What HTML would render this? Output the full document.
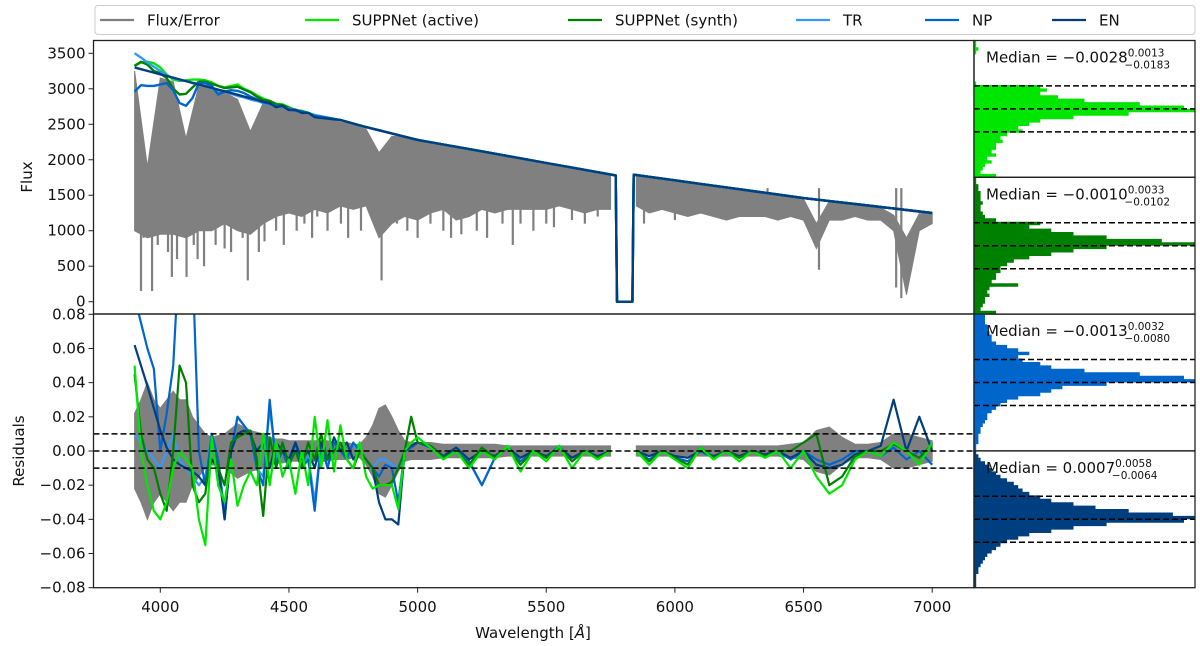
<!DOCTYPE html>
<html><head><meta charset="utf-8"><style>
html,body{margin:0;padding:0;background:#fff;}
svg{display:block;font-family:"DejaVu Sans","Liberation Sans",sans-serif;}
</style></head><body>
<svg id="chart" width="1200" height="646" viewBox="0 0 1200 646" xmlns="http://www.w3.org/2000/svg"></svg>
<script>
// ---- data ----
const xTicks=[4000,4500,5000,5500,6000,6500,7000];
const fluxTicks=[0,500,1000,1500,2000,2500,3000,3500];
const resTicks=[-0.08,-0.06,-0.04,-0.02,0.00,0.02,0.04,0.06,0.08];
const resTickLabels=["\u22120.08","\u22120.06","\u22120.04","\u22120.02","0.00","0.02","0.04","0.06","0.08"];

const grayW=[3900,3950,4000,4050,4100,4150,4200,4250,4300,4350,4400,4450,4500,4550,4600,4650,4700,4750,4800,4850,4900,4950,5000,5050,5100,5150,5200,5250,5300,5350,5400,5450,5500,5550,5600,5650,5700,5750,5800,5850,5900,5950,6000,6050,6100,6150,6200,6250,6300,6350,6400,6450,6500,6550,6600,6650,6700,6750,6800,6850,6900,6950,7000];
const grayTop=[3250,1900,3150,3100,2300,3050,3000,2950,2850,2400,2800,2740,2700,2650,2610,2570,2530,2490,2430,2100,2330,2320,2270,2240,2200,2170,2140,2110,2075,2045,2010,1980,1950,1920,1885,1855,1820,1790,null,1780,1755,1725,1700,1675,1650,1625,1600,1575,1550,1525,1500,1475,1450,1100,1415,1395,1370,1350,1325,1220,900,1240,1245];
const grayBottom=[1000,900,950,950,900,1000,1000,1100,1000,950,1100,1200,1250,1200,1300,1250,1350,1300,1350,900,1100,1200,1150,1250,1300,1150,1200,1300,1250,1300,1300,1300,1300,1350,1300,1250,1300,1300,null,1350,1250,1300,1250,1200,1250,1200,1150,1200,1200,1200,1150,1200,1150,750,1150,1150,1200,1150,1150,1000,100,1000,1100];
const lineW=[3925,3935,3968,3990,4030,4045,4065,4102,4130,4145,4170,4215,4250,4275,4320,4340,4383,4405,4450,4480,4530,4560,4590,4610,4650,4702,4730,4780,4860,4920,4960,5000,5050,5100,5130,5170,5230,5270,5330,5370,5400,5450,5500,5530,5600,5650,5700,5880,5900,6000,6100,6125,6160,6260,6360,6560,6860,6880];
const lineMin=[150,900,150,800,700,350,600,350,800,600,500,800,750,700,900,300,700,850,1000,800,1000,1100,900,1200,1000,1100,900,1000,300,1100,1000,900,1100,1000,900,950,1000,900,1100,800,1100,1000,1100,1050,1150,1100,1200,1100,1250,1150,1250,1250,1200,1250,1250,450,200,50];

const contW=[3900,3925,3950,3975,4000,4025,4050,4075,4100,4125,4150,4175,4200,4225,4250,4275,4300,4325,4350,4375,4400,4425,4450,4475,4500,4525,4550,4575,4600,4700,4800,4900,5000,5100,5200,5300,5400,5500,5600,5700,5770,5775,5835,5840,5900,6000,6100,6200,6300,6400,6500,6600,6700,6800,6900,7000];
const contTail=[2560,2460,2370,2280,2215,2150,2085,2020,1955,1890,1825,1780,0,0,1790,1760,1710,1660,1610,1560,1510,1460,1418,1376,1334,1292,1250];
const contEN=[3300,3276,3252,3228,3204,3180,3156,3132,3108,3084,3060,3036,3012,2988,2964,2940,2916,2892,2868,2844,2820,2797,2740,2760,2700,2707,2660,2662,2600].concat(contTail);
const contActive=[3330,3370,3380,3360,3300,3200,3130,3110,3120,3130,3130,3120,3090,3040,3020,3040,3060,3000,2960,2910,2860,2830,2790,2780,2740,2700,2690,2660,2630].concat(contTail);
const contSynth=[3320,3380,3340,3250,3220,3150,3000,2920,2930,3020,3100,3100,3070,3040,3010,3020,3030,2990,2950,2890,2840,2830,2780,2770,2730,2700,2680,2660,2620].concat(contTail);
const contTR=[3500,3440,3370,3310,3250,3190,3150,3120,3110,3080,3060,3040,3000,2980,2960,2930,2900,2880,2850,2830,2800,2780,2760,2740,2720,2700,2680,2650,2630].concat(contTail);
const contNP=[2960,3050,3040,3040,3060,3080,2980,2800,2760,2870,3080,3080,3040,2920,2960,2980,2970,2940,2890,2850,2810,2790,2760,2750,2710,2690,2680,2660,2620].concat(contTail);

const resW=[3900,3925,3950,3975,4000,4025,4050,4075,4100,4125,4150,4175,4200,4225,4250,4275,4300,4325,4350,4375,4400,4425,4450,4475,4500,4525,4550,4575,4600,4625,4650,4675,4700,4725,4750,4775,4800,4825,4850,4875,4900,4925,4950,4975,5000,5050,5100,5150,5200,5250,5300,5350,5400,5450,5500,5550,5600,5650,5700,5750,5850,5900,5950,6000,6050,6100,6150,6200,6250,6300,6350,6400,6450,6500,6550,6600,6650,6700,6750,6800,6850,6900,6950,7000];
const errAmp=[0.022,0.03,0.04,0.03,0.025,0.03,0.035,0.03,0.03,0.02,0.015,0.01,0.008,0.009,0.01,0.013,0.016,0.014,0.012,0.011,0.01,0.008,0.007,0.007,0.006,0.006,0.006,0.006,0.006,0.006,0.006,0.005,0.005,0.005,0.004,0.004,0.008,0.015,0.025,0.027,0.02,0.012,0.006,0.005,0.005,0.005,0.004,0.004,0.004,0.004,0.004,0.003,0.003,0.003,0.003,0.003,0.003,0.003,0.003,0.003,0.003,0.003,0.003,0.003,0.003,0.003,0.003,0.003,0.003,0.003,0.003,0.003,0.004,0.005,0.012,0.014,0.008,0.004,0.004,0.005,0.01,0.01,0.008,0.006];
const resActive=[0.05,0.0,-0.02,-0.035,-0.04,-0.03,-0.01,0.0,-0.005,-0.01,-0.04,-0.055,0.008,-0.02,-0.03,-0.005,-0.032,-0.02,-0.012,-0.02,0.01,-0.02,0.006,-0.015,-0.005,-0.025,0.0,-0.02,0.02,-0.01,0.018,-0.012,0.015,-0.005,-0.01,0.005,-0.015,-0.022,-0.02,-0.02,-0.02,-0.034,0.0,0.005,0.008,
0.002,-0.005,0.0,-0.01,0.0,-0.005,0.003,-0.012,0.0,-0.006,0.003,-0.01,0.0,-0.005,0.0,
0.0,-0.008,0.0,-0.005,-0.01,0.002,-0.005,0.0,-0.006,0.0,-0.004,0.0,-0.01,0.0,-0.015,-0.025,-0.02,-0.005,0.0,-0.003,0.005,0.0,-0.008,0.005];
const resSynth=[0.045,0.01,-0.005,-0.01,-0.025,-0.035,0.0,0.05,0.04,-0.02,-0.03,-0.025,0.005,-0.01,-0.02,0.005,0.008,0.01,0.012,-0.005,-0.038,0.008,-0.01,0.005,-0.008,0.0,-0.01,0.005,-0.005,0.01,-0.005,0.0,0.005,-0.005,-0.01,0.0,-0.005,-0.01,-0.02,-0.02,-0.018,-0.01,0.0,0.02,0.005,
0.003,-0.004,0.0,-0.008,0.002,-0.004,0.002,-0.008,0.0,-0.004,0.002,-0.006,0.0,-0.004,0.0,
0.0,-0.006,0.0,-0.004,-0.008,0.002,-0.004,0.0,-0.004,0.0,-0.003,0.0,0.0,0.005,0.01,-0.02,-0.015,-0.003,0.0,0.0,0.004,0.0,-0.004,0.004];
const resTR=[0.01,0.005,0.0,-0.005,-0.01,0.0,0.01,-0.005,-0.01,-0.015,-0.02,-0.015,0.01,-0.005,-0.035,0.0,0.02,0.015,0.01,-0.01,-0.015,0.025,-0.005,0.0,-0.008,0.005,-0.008,-0.003,-0.03,0.005,-0.01,0.005,0.0,-0.004,0.004,0.0,-0.005,-0.01,-0.005,-0.005,-0.008,-0.01,0.0,0.002,0.005,
0.002,-0.004,0.0,-0.006,-0.02,-0.004,0.002,-0.006,0.0,-0.004,0.003,-0.006,0.0,-0.003,0.0,
0.0,-0.005,0.0,-0.004,-0.006,0.0,-0.004,0.0,-0.004,0.0,-0.003,0.0,-0.005,0.0,-0.005,-0.008,-0.005,0.0,0.0,-0.003,0.002,-0.005,0.0,-0.008];
const resNP=[0.09,0.075,0.06,0.048,0.0,0.022,0.05,0.12,0.12,0.11,0.0,-0.02,0.01,-0.005,-0.04,0.0,0.02,0.015,0.01,-0.01,-0.02,0.03,-0.008,0.0,-0.01,0.005,-0.01,-0.005,-0.035,0.005,-0.01,0.005,0.0,-0.005,0.005,0.0,-0.005,-0.01,-0.015,-0.008,-0.01,-0.03,0.0,0.002,0.005,
0.002,-0.004,0.0,-0.006,-0.02,-0.004,0.002,-0.006,0.0,-0.004,0.003,-0.006,0.0,-0.003,0.0,
0.0,-0.005,0.0,-0.004,-0.006,0.0,-0.004,0.0,-0.004,0.0,-0.003,0.0,-0.005,0.0,-0.005,-0.008,-0.005,0.0,0.0,-0.003,0.002,-0.005,0.0,-0.008];
const resEN=[0.062,0.05,0.038,0.025,0.012,0.002,-0.005,-0.008,-0.01,-0.012,-0.015,-0.02,-0.005,-0.01,-0.04,0.0,0.01,0.012,0.01,0.0,0.005,-0.01,0.005,0.0,-0.005,0.005,-0.005,0.0,-0.01,0.005,-0.005,0.008,0.0,0.005,-0.005,0.0,-0.005,-0.01,-0.03,-0.04,-0.04,-0.043,0.0,0.003,0.005,
0.003,-0.003,0.002,-0.005,0.0,-0.003,0.002,-0.004,0.0,-0.003,0.002,-0.004,0.0,-0.003,0.0,
0.0,-0.003,0.0,-0.003,-0.004,0.0,-0.003,0.0,-0.003,0.0,-0.002,0.0,-0.004,0.0,-0.008,-0.01,-0.008,-0.002,0.0,0.003,0.03,0.0,0.02,0.0];

const histActive=[0.01,0.01,0.02,0.01,0,0,0,0,0,0,0,0,0.01,0.3,0.33,0.3,0.38,0.5,0.75,0.95,1.0,0.7,0.45,0.3,0.25,0.2,0.22,0.15,0.12,0.13,0.1,0.1,0.08,0.1,0.06,0.08,0.05,0.04,0.03,0.1];
const histSynth=[0.01,0.01,0.02,0.02,0.03,0.03,0.03,0.04,0.03,0.03,0.04,0.05,0.1,0.3,0.25,0.35,0.45,0.6,0.85,1.0,0.6,0.45,0.35,0.25,0.18,0.15,0.12,0.12,0.1,0.1,0.08,0.2,0.07,0.06,0.07,0.05,0.05,0.04,0.03,0.1];
const histNP=[0.05,0.05,0.05,0.06,0.06,0.07,0.08,0.08,0.1,0.15,0.2,0.25,0.2,0.22,0.3,0.35,0.5,0.75,0.95,1.0,0.6,0.4,0.35,0.3,0.2,0.15,0.12,0.1,0.08,0.06,0.06,0.05,0.04,0.03,0.03,0.02,0.02,0.02,0.01,0.01];
const histEN=[0.01,0.02,0.03,0.05,0.07,0.08,0.1,0.12,0.15,0.18,0.2,0.22,0.25,0.3,0.35,0.45,0.55,0.7,0.9,1.0,0.95,0.6,0.45,0.35,0.25,0.2,0.15,0.12,0.1,0.08,0.06,0.05,0.04,0.03,0.02,0.02,0.01,0.01,0.01,0.01];
const medians=[["Median = \u22120.0028","0.0013","\u22120.0183"],["Median = \u22120.0010","0.0033","\u22120.0102"],["Median = \u22120.0013","0.0032","\u22120.0080"],["Median = 0.0007","0.0058","\u22120.0064"]];

// ---- geometry ----
const AX0=93.5, AX1=974, TOP0=40.5, TOP1=314, BOT1=587.7;
const xS=w=>160.3+(w-4000)*0.2573;
const fS=f=>301.7-f*(248.4/3500);
const rS=r=>451-r*(273.4/0.16);
const C={gray:'#808080',act:'#00e600',syn:'#008000',tr:'#3399ff',np:'#0066cc',en:'#003f7f'};
const NS='http://www.w3.org/2000/svg';
const svg=document.getElementById('chart');
function mk(tag,attrs,parent){const e=document.createElementNS(NS,tag);for(const k in attrs)e.setAttribute(k,attrs[k]);(parent||svg).appendChild(e);return e;}

const defs=mk('defs',{});
const cp1=mk('clipPath',{id:'cTop'},defs);mk('rect',{x:AX0,y:TOP0,width:AX1-AX0,height:TOP1-TOP0},cp1);
const cp2=mk('clipPath',{id:'cBot'},defs);mk('rect',{x:AX0,y:TOP1,width:AX1-AX0,height:BOT1-TOP1},cp2);

function pathFrom(ws,vs,sy){let d='',pen=false;for(let i=0;i<ws.length;i++){if(vs[i]===null){pen=false;continue;}d+=(pen?'L':'M')+xS(ws[i]).toFixed(1)+','+sy(vs[i]).toFixed(1);pen=true;}return d;}

// ---- top panel ----
const gTop=mk('g',{'clip-path':'url(#cTop)'});


let seg=[];
function flushSeg(){if(seg.length<2){seg=[];return;}let d='M'+seg.map(i=>xS(grayW[i]).toFixed(1)+','+fS(grayTop[i]).toFixed(1)).join('L');d+='L'+seg.slice().reverse().map(i=>xS(grayW[i]).toFixed(1)+','+fS(grayBottom[i]).toFixed(1)).join('L')+'Z';const p=mk('path',{d:d,fill:C.gray,stroke:C.gray,'stroke-width':1},gTop);seg=[];}
for(let i=0;i<grayW.length;i++){if(grayTop[i]===null){flushSeg();}else seg.push(i);}flushSeg();
for(let i=0;i<lineW.length;i++){
  const l=mk('line',{x1:xS(lineW[i]),x2:xS(lineW[i]),y1:fS(1600),y2:fS(lineMin[i]),stroke:C.gray,'stroke-width':2.2},gTop);
  
  
}
const contSeries=[[contActive,C.act,'continuum-suppnet-active'],[contSynth,C.syn,'continuum-suppnet-synth'],[contTR,C.tr,'continuum-tr'],[contNP,C.np,'continuum-np'],[contEN,C.en,'continuum-en']];
contSeries.forEach(s=>{const p=mk('path',{d:pathFrom(contW,s[0],fS),fill:'none',stroke:s[1],'stroke-width':2.4,'stroke-linejoin':'round'},gTop);});

// ---- bottom panel ----
const gBot=mk('g',{'clip-path':'url(#cBot)'});


function bandSeg(a,b){let d='M';const idx=[];for(let i=a;i<=b;i++)idx.push(i);d+=idx.map(i=>xS(resW[i]).toFixed(1)+','+rS(errAmp[i]).toFixed(1)).join('L');d+='L'+idx.reverse().map(i=>xS(resW[i]).toFixed(1)+','+rS(-errAmp[i]).toFixed(1)).join('L')+'Z';const p=mk('path',{d:d,fill:C.gray,stroke:C.gray,'stroke-width':1},gBot);}
const gapIdx=resW.indexOf(5850);
bandSeg(0,gapIdx-1);bandSeg(gapIdx,resW.length-1);
[0.01,0,-0.01].forEach(v=>{const l=mk('line',{x1:AX0,x2:AX1,y1:rS(v),y2:rS(v),stroke:'#000','stroke-width':1.5,'stroke-dasharray':'6,3'},svg);});
function resPath(vs){const a=vs.slice();a.splice(gapIdx,0,null);const w=resW.slice();w.splice(gapIdx,0,5800);return pathFrom(w,a,rS);}
const resSeries=[[resTR,C.tr,'residual-tr'],[resNP,C.np,'residual-np'],[resEN,C.en,'residual-en'],[resSynth,C.syn,'residual-suppnet-synth'],[resActive,C.act,'residual-suppnet-active']];
resSeries.forEach(s=>{const p=mk('path',{d:resPath(s[0]),fill:'none',stroke:s[1],'stroke-width':2.2,'stroke-linejoin':'round'},gBot);});

// ---- frames & axes ----
const f1=mk('rect',{x:AX0,y:TOP0,width:AX1-AX0,height:TOP1-TOP0,fill:'none',stroke:'#222','stroke-width':1.3});

const f2=mk('rect',{x:AX0,y:TOP1,width:AX1-AX0,height:BOT1-TOP1,fill:'none',stroke:'#222','stroke-width':1.3});

fluxTicks.forEach(v=>{const y=fS(v);mk('line',{x1:AX0-5,x2:AX0,y1:y,y2:y,stroke:'#222'});const t=mk('text',{x:AX0-8,y:y+5,'text-anchor':'end','font-size':15,fill:'#111'});t.textContent=v;});
resTicks.forEach((v,i)=>{const y=rS(v);mk('line',{x1:AX0-5,x2:AX0,y1:y,y2:y,stroke:'#222'});const t=mk('text',{x:AX0-8,y:y+5,'text-anchor':'end','font-size':15,fill:'#111'});t.textContent=resTickLabels[i];});
xTicks.forEach(v=>{const x=xS(v);mk('line',{x1:x,x2:x,y1:BOT1,y2:BOT1+5,stroke:'#222'});const t=mk('text',{x:x,y:612,'text-anchor':'middle','font-size':15,fill:'#111'});t.textContent=v;});
let t=mk('text',{x:0,y:0,'font-size':15,'text-anchor':'middle',transform:'translate(32,177) rotate(-90)',fill:'#111'});t.textContent='Flux';
t=mk('text',{x:0,y:0,'font-size':15,'text-anchor':'middle',transform:'translate(24,451) rotate(-90)',fill:'#111'});t.textContent='Residuals';
t=mk('text',{x:533,y:638,'font-size':15,'text-anchor':'middle',fill:'#111'});t.innerHTML='Wavelength [<tspan font-style="italic">Å</tspan>]';

// ---- right histograms ----
const PX0=974, PX1=1195, PH=(BOT1-TOP0)/4;
const hists=[[histActive,C.act,'hist-suppnet-active'],[histSynth,C.syn,'hist-suppnet-synth'],[histNP,C.np,'hist-np'],[histEN,C.en,'hist-en']];
hists.forEach((h,k)=>{
  const top=TOP0+k*PH, n=h[0].length, bh=PH/n;
  const g=mk('g',{});
  let d='M'+PX0+','+top;
  h[0].forEach((v,i)=>{const x=PX0+v*(PX1-PX0);d+='L'+x.toFixed(1)+','+(top+i*bh).toFixed(1)+'L'+x.toFixed(1)+','+(top+(i+1)*bh).toFixed(1);});
  d+='L'+PX0+','+(top+PH)+'Z';
  mk('path',{d:d,fill:h[1]},g);
  [-23,0,23].forEach(o=>{mk('line',{x1:PX0,x2:PX1,y1:top+PH/2+o,y2:top+PH/2+o,stroke:'#000','stroke-width':1.5,'stroke-dasharray':'6,3'},g);});
  const fr=mk('rect',{x:PX0,y:top,width:PX1-PX0,height:PH,fill:'none',stroke:'#222','stroke-width':1.3});
  
  const m=medians[k];
  const tx=mk('text',{x:986,y:top+22,'font-size':15,fill:'#111'});
  
  tx.innerHTML=m[0]+'<tspan font-size="10.5" dy="-6">'+m[1]+'</tspan><tspan font-size="10.5" dx="-'+(m[1].length*6.7).toFixed(0)+'" dy="12">'+m[2]+'</tspan>';
});

// ---- legend ----
const lg=mk('g',{});
mk('rect',{x:95,y:5.5,width:1100,height:29,rx:3,fill:'#fff',stroke:'#ccc','stroke-width':1},lg);
const legNames=['Flux/Error','SUPPNet (active)','SUPPNet (synth)','TR','NP','EN'];
const legCols=[C.gray,C.act,C.syn,C.tr,C.np,C.en];
const legX=[100,305,568,796,925,1052];
legNames.forEach((n,i)=>{
  const e=mk('g',{},lg);
  mk('line',{x1:legX[i],x2:legX[i]+34,y1:20,y2:20,stroke:legCols[i],'stroke-width':2.2},e);
  const tt=mk('text',{x:legX[i]+47,y:25.5,'font-size':15,fill:'#111'},e);tt.textContent=n;
});
</script>
</body></html>
